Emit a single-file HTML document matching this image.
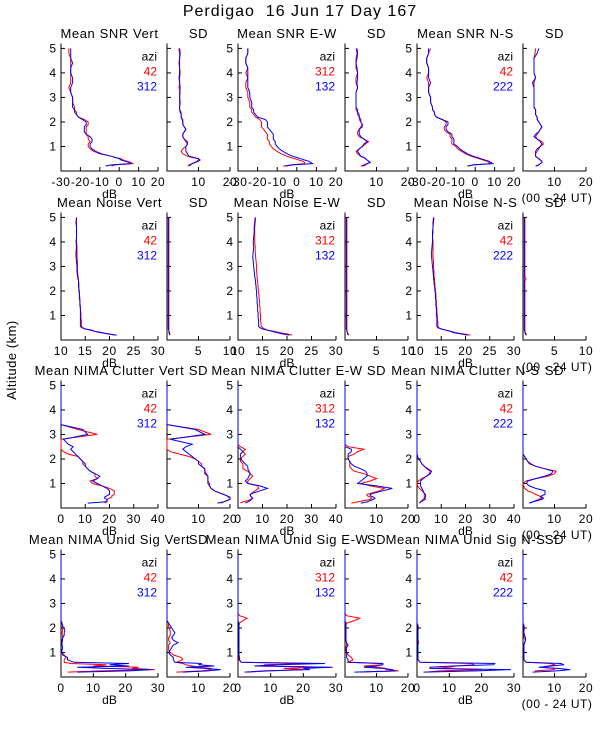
<!DOCTYPE html>
<html><head><meta charset="utf-8"><style>
html,body{margin:0;padding:0;background:#fff;}
svg text{font-family:"Liberation Sans",sans-serif;}
</style></head><body>
<svg id="fig" width="600" height="750" viewBox="0 0 600 750" xmlns="http://www.w3.org/2000/svg">
<rect width="600" height="750" fill="#fff"/>
<text x="300" y="16" font-size="16" letter-spacing="1" text-anchor="middle" style="white-space:pre">Perdigao  16 Jun 17 Day 167</text>
<text transform="translate(16,360) rotate(-90)" font-size="13" letter-spacing="0.5" text-anchor="middle">Altitude (km)</text>
<g id="plots"></g>
</svg>
<script>
const altitudes=[0.2,0.25,0.3,0.35,0.4,0.45,0.5,0.55,0.6,0.7,0.8,0.9,1.0,1.1,1.2,1.3,1.4,1.5,1.6,1.7,1.8,1.9,2.0,2.1,2.2,2.3,2.4,2.5,2.6,2.8,3.0,3.2,3.4,3.6,3.8,4.0,4.2,4.4,4.6,4.8,5.0];
const rowTitles=[["Mean SNR Vert","Mean SNR E-W","Mean SNR N-S"],["Mean Noise Vert","Mean Noise E-W","Mean Noise N-S"],["Mean NIMA Clutter Vert","Mean NIMA Clutter E-W","Mean NIMA Clutter N-S"],["Mean NIMA Unid Sig Vert","Mean NIMA Unid Sig E-W","Mean NIMA Unid Sig N-S"]];
const legendRed=["42","312","42"];
const legendBlue=["312","132","222"];
const meanRanges=[[-30,20],[10,30],[0,40],[0,30]];
const meanTicks=[[-30,-20,-10,0,10,20],[10,15,20,25,30],[0,10,20,30,40],[0,10,20,30]];
const sdRanges=[[0,20],[0,10],[0,20],[0,20]];
const sdTicks=[[10,20],[5,10],[10,20],[10,20]];
const altTicks=[1,2,3,4,5];

// Row 1: SNR
const snrVertRed=[-4,-2,7,6,4,2,1,-2,-4,-10,-13,-15,-16,-16,-15,-16,-16,-17,-17,-17,-17,-16,-16,-18,-21,-22,-22,-23,-23,-24,-24,-25,-26,-25,-25,-25,-25,-25,-25,-26,-26];
const snrVertBlue=[-7,-4,6,5,3,1,0,-2,-4,-9,-12,-14,-15,-15,-14,-14,-15,-17,-18,-18,-18,-17,-17,-19,-21,-22,-23,-23,-24,-24,-24,-25,-25,-24,-24,-25,-25,-24,-25,-25,-25];
const snrVertSdRed=[6.5,7,8,9,9.5,10,10,8,6.5,5,4.5,5,6,6.5,6.5,5.5,5,5,5.5,6,5.5,5,5,5,4.5,4.5,4.5,4,4,4,4,4.2,3.8,4,4,4.2,4,3.8,4,4,3.7];
const snrVertSdBlue=[7,7.5,8,9,10,10.5,10,8.5,7,6.5,6,6,6,6.5,6,5.5,5,5,5.5,6,5.5,5,5,4.8,4.5,4.5,4.2,4,4,4.2,4,4,4.2,4,3.8,4,4,4,4,4.2,4];
const snrEwRed=[-7,-3,4,4,3,1,-1,-3,-5,-8,-10,-12,-13,-14,-14,-15,-15,-15,-16,-17,-18,-18,-18,-19,-21,-22,-23,-23,-24,-24,-25,-25,-26,-26,-25,-26,-25,-26,-26,-25,-25];
const snrEwBlue=[-6,-2,8,7,6,4,2,0,-2,-5,-7,-9,-10,-11,-11,-12,-12,-12,-13,-14,-15,-15,-15,-16,-20,-21,-22,-22,-23,-23,-24,-24,-25,-25,-25,-25,-25,-26,-26,-25,-25];
const snrEwSdRed=[5,6,7,8,7.5,7,6.5,6,5,4,3.5,4.5,5.5,6.5,7.5,6,4.5,4,4,4.5,5,5.5,5,4.5,4.5,4,4,3.5,3.5,3.5,3.5,3.5,4,3.5,3.5,4,3.5,3.5,3.5,3.8,3.5];
const snrEwSdBlue=[5.5,6.5,7,8,7.5,7,6.5,6,5,4.5,4,4.5,5.5,6,7,6,5,4.5,4.5,4.5,5.5,5.5,5,5,4.5,4.5,4,4,3.5,3.5,3.5,3.5,4,3.8,4,4,3.8,3.5,3.8,4,3.8];
const snrNsRed=[-4,-1,8,7,6,4,2,0,-2,-5,-7,-9,-10,-12,-12,-12,-13,-13,-15,-16,-16,-15,-15,-17,-20,-21,-21,-22,-22,-23,-23,-24,-24,-24,-25,-24,-24,-25,-25,-24,-23];
const snrNsBlue=[-4,-1,9,8,7,5,3,1,-1,-4,-6,-8,-9,-11,-11,-11,-12,-12,-14,-15,-15,-14,-14,-17,-20,-21,-21,-22,-22,-23,-23,-24,-24,-23,-24,-24,-24,-25,-25,-24,-24];
const snrNsSdRed=[4,5,5.5,6,6,5.5,5,4.5,4,4,4.5,5,5.5,6.5,6,4.5,4,4.5,5,5.5,6,5.5,5,4.5,4.5,4,4,4,3.5,3.5,3.5,3.5,3.5,3.5,4,3.5,3.5,3.5,3.5,3.8,4];
const snrNsSdBlue=[4,5,5.5,6,6,5.5,5,4.5,4,4,4,4.5,5.5,6,5.5,4.5,3.5,4,5,5.5,6,5.5,5,4.5,4.5,4,4,4,3.5,3.5,3.5,3.5,3.5,3,4,3.5,3.5,3.5,3.5,4.5,5];

// Row 2: Noise
const noiseVertRed=[21,20,18,17,16,15,14.5,14.2,14.2,14.2,14.2,14.1,14.1,14.1,14,14,14,13.9,13.9,13.9,13.8,13.8,13.8,13.7,13.7,13.7,13.6,13.6,13.5,13.4,13.4,13.4,13.3,13.3,13.3,13.2,13.2,13.2,13.2,13.2,13.2];
const noiseVertBlue=[21.5,19.5,18.5,17,16.5,15,14.3,14,14,14,14,14,14,14,14,14,13.9,13.9,13.9,13.8,13.8,13.8,13.7,13.7,13.6,13.6,13.6,13.5,13.4,13.3,13.3,13.2,13.1,13.1,13.2,13.1,13.2,13.2,13.2,13.1,13.2];
const noiseVertSdRed=[0.5,0.4,0.4,0.3,0.3,0.3,0.3,0.3,0.3,0.3,0.3,0.3,0.3,0.3,0.3,0.3,0.3,0.3,0.3,0.3,0.3,0.3,0.3,0.3,0.3,0.3,0.3,0.3,0.3,0.3,0.3,0.3,0.3,0.3,0.3,0.3,0.3,0.3,0.3,0.3,0.3];
const noiseVertSdBlue=[0.4,0.4,0.3,0.3,0.3,0.2,0.2,0.2,0.2,0.2,0.2,0.2,0.2,0.2,0.2,0.2,0.2,0.2,0.2,0.2,0.2,0.2,0.2,0.2,0.2,0.2,0.2,0.2,0.2,0.2,0.2,0.2,0.2,0.2,0.2,0.2,0.2,0.2,0.2,0.2,0.2];
const noiseEwRed=[21,20,18.5,17.5,16,15.5,15,14.8,14.7,14.7,14.6,14.6,14.6,14.5,14.5,14.5,14.4,14.4,14.4,14.3,14.3,14.2,14.2,14.1,14.1,14,14,13.9,13.9,13.8,13.8,13.7,13.6,13.5,13.5,13.4,13.4,13.4,13.4,13.5,13.6];
const noiseEwBlue=[20.5,19,18,17,16,15,14.5,14.2,14.2,14.2,14.2,14.1,14.1,14.1,14,14,14,13.9,13.9,13.9,13.8,13.8,13.8,13.7,13.7,13.6,13.6,13.5,13.4,13.3,13.2,13.1,13,13.1,13.2,13.1,13.2,13.3,13.3,13.4,13.5];
const noiseEwSdRed=[0.5,0.4,0.4,0.3,0.3,0.3,0.3,0.3,0.3,0.3,0.3,0.3,0.3,0.3,0.3,0.3,0.3,0.3,0.3,0.3,0.3,0.3,0.3,0.3,0.3,0.3,0.3,0.3,0.3,0.3,0.3,0.3,0.3,0.3,0.3,0.3,0.3,0.3,0.3,0.3,0.3];
const noiseEwSdBlue=[0.6,0.5,0.4,0.3,0.3,0.2,0.2,0.2,0.2,0.2,0.2,0.2,0.2,0.2,0.2,0.2,0.2,0.2,0.2,0.2,0.2,0.2,0.2,0.2,0.2,0.2,0.2,0.2,0.2,0.2,0.2,0.2,0.2,0.2,0.2,0.2,0.2,0.2,0.2,0.2,0.2];
const noiseNsRed=[21,19.5,18,17,16,15,14.5,14.3,14.3,14.3,14.2,14.2,14.2,14.1,14.1,14.1,14,14,14,13.9,13.9,13.9,13.8,13.8,13.7,13.7,13.6,13.6,13.5,13.5,13.4,13.4,13.3,13.3,13.3,13.3,13.2,13.3,13.3,13.4,13.5];
const noiseNsBlue=[20.5,19,17.5,17,16,15,14.3,14.1,14.1,14.1,14.1,14.1,14,14,14,14,13.9,13.9,13.9,13.8,13.8,13.8,13.7,13.7,13.6,13.5,13.5,13.4,13.4,13.3,13.2,13.1,13,13,13.1,13.2,13.2,13.2,13.3,13.3,13.4];
const noiseNsSdRed=[0.6,0.5,0.4,0.3,0.3,0.3,0.3,0.3,0.3,0.3,0.3,0.3,0.3,0.3,0.3,0.3,0.3,0.3,0.3,0.3,0.3,0.3,0.3,0.3,0.3,0.3,0.3,0.5,0.3,0.3,0.3,0.3,0.3,0.3,0.3,0.3,0.3,0.3,0.3,0.3,0.3];
const noiseNsSdBlue=[0.5,0.4,0.3,0.3,0.2,0.2,0.2,0.2,0.2,0.2,0.2,0.2,0.2,0.2,0.2,0.2,0.2,0.2,0.2,0.2,0.2,0.2,0.2,0.2,0.2,0.2,0.2,0.2,0.2,0.2,0.2,0.2,0.2,0.2,0.2,0.2,0.2,0.2,0.2,0.2,0.2];

// Row 3: Clutter
const clutVertRed=[18,19,19,19,20,21,21,22,22,22,20,17,13,12,15,14,14,12,11,10,9,9,8,7,3,1,0,0,0,0,15,7,0,0,0,0,0,0,0,0,0];
const clutVertBlue=[11,18,19,19,18,18,19,20,20,20,19,17,15,13,15,16,14,12,11,10,10,9,8,7,6,5,4,5,3,1,11,9,0,0,0,0,0,0,0,0,0];
const clutVertSdRed=[17,18,19,20,20,20,19,18,17,15,14,13.5,13.5,13,13,13,12.5,12,12,11,11,10,9,7,4,1,0,0,0,0,14,10,0,0,0,0,0,0,0,0,0];
const clutVertSdBlue=[16,18,19,20,20,19.5,19,18,17,15,14,13.5,13,13,13,13,12,12,12,11,10,10,9,8,7,6,5,6,8,1,12,9,0,0,0,0,0,0,0,0,0];
const clutEwRed=[1,2,4,5,6,5.5,5,5,5.5,7,8.5,8,4,4,5,6,5,4,2,2,2,1,1,2,3,2,3,1,0,0,0,0,0,0,0,0,0,0,0,0,0];
const clutEwBlue=[3,4,5,5.5,6,5.5,5,5,6,9,12,9,4,3,4,4.5,5,4.5,4,4,3,2,1,1,1,2,1,0,0,0,0,0,0,0,0,0,0,0,0,0,0];
const clutEwSdRed=[2,4,6,8,8.5,8,7,7,8,11,12.5,8,5,8,10,8,6,3,2,1.5,1.5,1.5,1,1,3,4,6,1,0,0,0,0,0,0,0,0,0,0,0,0,0];
const clutEwSdBlue=[5,7,8,9,9.5,9,8,8,9,12,15,10,4,5,6,7,7,6.5,5,3,2,1.5,1,1,1,2,2,0,0,0,0,0,0,0,0,0,0,0,0,0,0];
const clutNsRed=[1,1.5,2,2.5,3,3,3,3,3,2,1,0.3,0,0.5,2,4,5,5.5,4,3,2,1.5,0.5,0.3,0,0,0,0,0,0,0,0,0,0,0,0,0,0,0,0,0];
const clutNsBlue=[1,1.5,2.5,3.5,3,3.5,3.5,3.5,3,2.5,2,1.5,1.4,1.5,2.5,4,5.5,6,4.5,3,2,1.5,0.5,0.3,0,0,0,0,0,0,0,0,0,0,0,0,0,0,0,0,0];
const clutNsSdRed=[2,3,4,5,6,6,5,4,3.5,1.5,0.5,0.2,0,1,4,8,10,10.5,7,4,2,1.5,1,0.5,0,0,0,0,0,0,0,0,0,0,0,0,0,0,0,0,0];
const clutNsSdBlue=[2,3,4.5,6,6.5,5.5,6,7,7,7,4,2,1.1,1.5,4,7,9,9.5,7,4,2.5,1.5,1,0.5,0,0,0,0,0,0,0,0,0,0,0,0,0,0,0,0,0];

// Row 4: Unidentified signal
const unidVertRed=[2,12,29,22,24,10,14,3,1,1,1.5,1,0.3,0.3,0.5,0.3,0.3,0.3,0.5,0.5,0.3,0.5,0.3,0.5,0.3,0,0,0,0,0,0,0,0,0,0,0,0,0,0,0,0];
const unidVertBlue=[5,21,28,14,5,21,15,21,4,2,2,0.5,0.3,0.3,0.5,0.3,0.3,0.5,0.5,1,1,1.2,0.8,0.5,0.3,0,0,0,0,0,0,0,0,0,0,0,0,0,0,0,0];
const unidVertSdRed=[3,11,14,14,10,8,6,5,3,5,4.5,2,1,0.5,0.5,0.5,1,0.5,0.5,1,1,1,0.5,0.5,0.5,0,0,0,0,0,0,0,0,0,0,0,0,0,0,0,0];
const unidVertSdBlue=[5,13,17,12,6,15,10,11,2.5,2,2,1,0.5,1,1.5,2,3.5,2,1.5,2,2.5,2,1.5,1,0.5,0,0,0,0,0,0,0,0,0,0,0,0,0,0,0,0];
const unidEwRed=[3,10,20,14,26,10,8,22,1,0.5,0.5,0.3,0.3,0.3,0.3,0.3,0.3,0.3,0.3,0.3,0.3,0.3,0.3,0.3,0.5,1.5,2.8,0.5,0,0,0,0,0,0,0,0,0,0,0,0,0];
const unidEwBlue=[2,8,22,20,29,5,12,26.6,1,0.3,0.3,0.3,0.3,0.3,0.3,0.3,0.3,0.3,0.3,0.3,0.3,0.3,0.3,0.3,0.3,0,0,0,0,0,0,0,0,0,0,0,0,0,0,0,0];
const unidEwSdRed=[5,17,13,13,10,6,12,12,1,2.5,2,1,0.5,0.5,0.3,0.5,0.5,0.3,0.3,0.3,0.3,0.3,0.3,0.3,0.5,3,4.7,0.5,0,0,0,0,0,0,0,0,0,0,0,0,0];
const unidEwSdBlue=[3,16,15,12,6,10,12,12,1,1,0.5,0.5,0.5,0.3,0.5,1,0.5,0.3,0.3,0.3,0.3,0.3,0.3,0.3,0.3,0,0,0,0,0,0,0,0,0,0,0,0,0,0,0,0];
const unidNsRed=[3,7,20,6,10,12,17.6,17,1,0.3,0.3,0.3,0.3,0.3,0.3,0.3,0.5,0.3,0.3,0.3,0.3,0.3,0.5,0.3,0,0,0,0,0,0,0,0,0,0,0,0,0,0,0,0,0];
const unidNsBlue=[2,18.6,29,4,4,11,23.6,24,1,0.3,0.3,0.3,0.3,0.3,0.3,0.3,0.3,0.3,0.3,0.3,0.3,0.3,0.3,0.3,0,0,0,0,0,0,0,0,0,0,0,0,0,0,0,0,0];
const unidNsSdRed=[4,4,10,9.7,6,8,10,9,1,0.3,0.3,0.3,0.3,0.3,0.3,0.3,0.5,0.8,0.3,0.3,0.3,0.3,0.5,0.3,0,0,0,0,0,0,0,0,0,0,0,0,0,0,0,0,0];
const unidNsSdBlue=[3,10.8,15,11,5,9,13,12,1,0.3,0.3,0.3,0.3,0.3,0.3,0.3,0.5,0.8,0.8,0.5,0.3,0.3,0.3,0.3,0,0,0,0,0,0,0,0,0,0,0,0,0,0,0,0,0];

const meanSeries=[
 [[snrVertRed,snrVertBlue],[snrEwRed,snrEwBlue],[snrNsRed,snrNsBlue]],
 [[noiseVertRed,noiseVertBlue],[noiseEwRed,noiseEwBlue],[noiseNsRed,noiseNsBlue]],
 [[clutVertRed,clutVertBlue],[clutEwRed,clutEwBlue],[clutNsRed,clutNsBlue]],
 [[unidVertRed,unidVertBlue],[unidEwRed,unidEwBlue],[unidNsRed,unidNsBlue]]];
const sdSeries=[
 [[snrVertSdRed,snrVertSdBlue],[snrEwSdRed,snrEwSdBlue],[snrNsSdRed,snrNsSdBlue]],
 [[noiseVertSdRed,noiseVertSdBlue],[noiseEwSdRed,noiseEwSdBlue],[noiseNsSdRed,noiseNsSdBlue]],
 [[clutVertSdRed,clutVertSdBlue],[clutEwSdRed,clutEwSdBlue],[clutNsSdRed,clutNsSdBlue]],
 [[unidVertSdRed,unidVertSdBlue],[unidEwSdRed,unidEwSdBlue],[unidNsSdRed,unidNsSdBlue]]];

const NS="http://www.w3.org/2000/svg";
const root=document.getElementById('plots');
const rowBottoms=[171,340,508,677];
const meanX=[[61,158],[238,336],[417,514]];
const sdX=[[167,230],[345,408],[523,586]];
const ALT_MAX=5.2, PANEL_H=127.5;
const colors=["#ff0000","#0000ff"];

function mk(tag,attrs,parent){const e=document.createElementNS(NS,tag);for(const k in attrs)e.setAttribute(k,attrs[k]);parent.appendChild(e);return e;}
function txt(s,attrs,parent){const e=mk('text',attrs,parent);e.textContent=s;return e;}

function drawPanel(r,c,isSd){
  const bottom=rowBottoms[r], top=bottom-PANEL_H;
  const [x0,x1]=isSd?sdX[c]:meanX[c];
  const [v0,v1]=isSd?sdRanges[r]:meanRanges[r];
  const xs=v=>x0+(v-v0)/(v1-v0)*(x1-x0);
  const ys=a=>bottom-a/ALT_MAX*PANEL_H;
  const g=mk('g',{},root);
  
  
  const ax=mk('path',{d:`M${x0} ${top}V${bottom}H${x1}`,stroke:'#000',fill:'none','stroke-width':1},g);
  
  
  altTicks.forEach(a=>{
    const y=ys(a);
    const t=mk('line',{x1:x0,x2:x0+4,y1:y,y2:y,stroke:'#000'},g);
    
    
    if(!isSd){
      const l=txt(String(a),{x:x0-5,y:y+4,'font-size':12,'text-anchor':'end'},g);
      
      
    }
  });
  (isSd?sdTicks[r]:meanTicks[r]).forEach(v=>{
    const x=xs(v);
    const t=mk('line',{x1:x,x2:x,y1:bottom,y2:bottom-4,stroke:'#000'},g);
    
    
    const l=txt(String(v),{x:x,y:bottom+15,'font-size':12,'letter-spacing':0.6,'text-anchor':'middle'},g);
    
    
  });
  const ttl=txt(isSd?'SD':rowTitles[r][c],{x:(x0+x1)/2,y:bottom-133,'font-size':13,'letter-spacing':0.6,'text-anchor':'middle'},g);
  
  
  if(!isSd){
    const db=txt('dB',{x:(x0+x1)/2,y:bottom+27,'font-size':12,'text-anchor':'middle'},g);
    
    
    const a1=txt('azi',{x:x1-1,y:top+17,'font-size':12,'text-anchor':'end'},g);
    
    
    const a2=txt(legendRed[c],{x:x1-1,y:top+32,'font-size':12,'text-anchor':'end',fill:colors[0]},g);
    
    
    const a3=txt(legendBlue[c],{x:x1-1,y:top+47,'font-size':12,'text-anchor':'end',fill:colors[1]},g);
    
    
  } else if(c===2){
    const ut=txt('(00 - 24 UT)',{x:557,y:bottom+31,'font-size':12,'letter-spacing':0.5,'text-anchor':'middle'},g);
    
    
  }
  const series=isSd?sdSeries[r][c]:meanSeries[r][c];
  series.forEach((vals,si)=>{
    const n=Math.min(vals.length,altitudes.length);
    let d='';
    for(let i=0;i<n;i++){d+=(i?'L':'M')+xs(Math.max(v0,Math.min(v1,vals[i]))).toFixed(1)+' '+ys(altitudes[i]).toFixed(1);}
    const p=mk('path',{d:d,stroke:colors[si],fill:'none','stroke-width':1},g);
    
    
  });
}
for(let r=0;r<4;r++)for(let c=0;c<3;c++){drawPanel(r,c,false);drawPanel(r,c,true);}
</script>
</body></html>
